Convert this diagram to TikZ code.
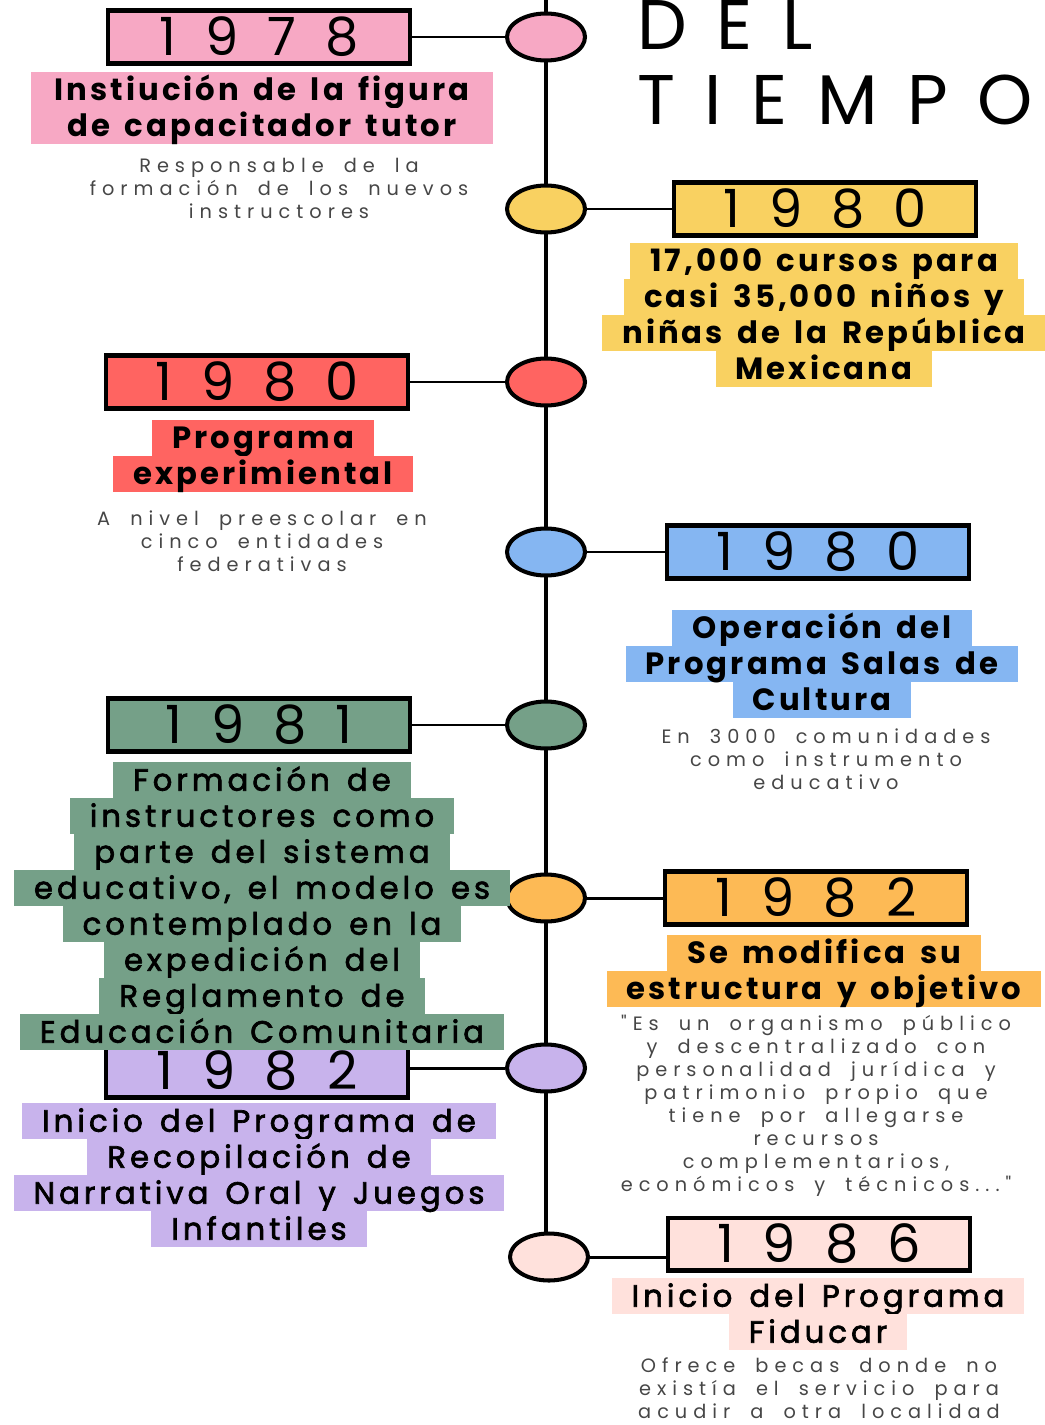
\documentclass[tikz,border=0pt]{standalone}
\usepackage{fontspec}
\setmainfont{Poppins}
\newfontfamily\anyofont[LetterSpace=55]{Poppins}
\newfontfamily\titfont[LetterSpace=42]{Poppins}
\newfontfamily\negfont[LetterSpace=10,WordSpace=1.5]{Poppins}
\newfontfamily\medfont[LetterSpace=13,WordSpace=1.4,FakeBold=2.2]{Poppins}
\newfontfamily\notafont[LetterSpace=31,WordSpace=1.8,Ligatures=TeXOff]{Poppins}
\usetikzlibrary{positioning,shapes.geometric}
\definecolor{rosa}{RGB}{247,168,196}
\definecolor{amarillo}{RGB}{249,209,97}
\definecolor{rojo}{RGB}{255,100,97}
\definecolor{azul}{RGB}{133,182,242}
\definecolor{verde}{RGB}{117,160,136}
\definecolor{naranja}{RGB}{253,186,85}
\definecolor{lila}{RGB}{200,179,236}
\definecolor{rosaclaro}{RGB}{255,225,220}
\definecolor{gris}{RGB}{70,70,70}
\tikzset{
  punto/.style={ellipse,draw,line width=2.3pt,minimum width=1.56cm,minimum height=0.94cm,inner sep=0pt},
  anio/.style={draw,line width=2.3pt,minimum width=6.05cm,minimum height=1.06cm,inner sep=0pt,
    font=\anyofont\fontsize{30}{30}\selectfont},
  franja/.style={fill=#1,inner xsep=0.4cm,inner ysep=0pt,outer sep=0pt,minimum height=0.72cm,
    text height=12.2pt,text depth=0pt,font=\negfont\bfseries\fontsize{17.5}{21}\selectfont},
  franjam/.style={franja=#1,font=\medfont\fontsize{17.5}{21}\selectfont},
  nota/.style={align=center,text=gris,inner sep=0pt,font=\notafont\fontsize{11}{13.1}\selectfont},
  titulo/.style={anchor=base west,inner sep=0pt,font=\titfont\fontsize{40}{40}\selectfont},
  eje/.style={line width=2.8pt},
  union/.style={line width=1.7pt},
}
\begin{document}
\begin{tikzpicture}[x=0.02cm,y=-0.02cm]
  \useasboundingbox (0,0) rectangle (1044,1425);
  \coordinate (arriba) at (546,0);
  \coordinate (abajo) at (546,1240);
  \draw[eje] (arriba) -- (abajo);
  \foreach \nombre/\y/\col in {p1/37/rosa,p2/209/amarillo,p3/382/rojo,p4/552/azul,
      p5/725/verde,p6/898/naranja,p7/1068/lila}
    \node[punto,fill=\col] (\nombre) at (546,\y) {};
  \node[punto,fill=rosaclaro] (p8) at (549,1257) {};

  \node[anio,fill=rosa] (a1) at (259,37) {1978};
  \node[anio,fill=amarillo] (a2) at (825,209) {1980};
  \node[anio,fill=rojo] (a3) at (257,382) {1980};
  \node[anio,fill=azul] (a4) at (818,552) {1980};
  \node[anio,fill=verde] (a5) at (259,725) {1981};
  \node[anio,fill=naranja] (a6) at (816,898) {1982};
  \node[anio,fill=lila] (a7) at (257,1071) {1982};
  \node[anio,fill=rosaclaro] (a8) at (819,1244) {1986};
  \foreach \i in {1,...,6} \draw[union] (p\i) -- (a\i);
  \draw[union] (p7) -- (p7 -| a7.east);
  \draw[union] (p8) -- (p8 -| a8.west);

  \node[franja=rosa,anchor=north,minimum width=9.24cm] (b1a) at (262,72) {Instiución de la figura};
  \node[franja=rosa,below=0pt of b1a,minimum width=9.24cm] (b1b) {de capacitador tutor};

  \node[franja=amarillo,anchor=north] (b2a) at (824,243) {17,000 cursos para};
  \node[franja=amarillo,below=0pt of b2a] (b2b) {casi 35,000 niños y};
  \node[franja=amarillo,below=0pt of b2b] (b2c) {niñas de la República};
  \node[franja=amarillo,below=0pt of b2c] (b2d) {Mexicana};

  \node[franja=rojo,anchor=north] (b3a) at (263,420) {Programa};
  \node[franja=rojo,below=0pt of b3a] (b3b) {experimiental};

  \node[franja=azul,anchor=north] (b4a) at (822,610) {Operación del};
  \node[franja=azul,below=0pt of b4a] (b4b) {Programa Salas de};
  \node[franja=azul,below=0pt of b4b] (b4c) {Cultura};

  \node[franjam=verde,anchor=north] (b5a) at (262,762) {Formación de};
  \node[franjam=verde,below=0pt of b5a] (b5b) {instructores como};
  \node[franjam=verde,below=0pt of b5b] (b5c) {parte del sistema};
  \node[franjam=verde,below=0pt of b5c] (b5d) {educativo, el modelo es};
  \node[franjam=verde,below=0pt of b5d] (b5e) {contemplado en la};
  \node[franjam=verde,below=0pt of b5e] (b5f) {expedición del};
  \node[franjam=verde,below=0pt of b5f] (b5g) {Reglamento de};
  \node[franjam=verde,below=0pt of b5g] (b5h) {Educación Comunitaria};

  \node[franja=naranja,anchor=north] (b6a) at (824,935) {Se modifica su};
  \node[franja=naranja,below=0pt of b6a] (b6b) {estructura y objetivo};

  \node[franjam=lila,anchor=north] (b7a) at (259,1103) {Inicio del Programa de};
  \node[franjam=lila,below=0pt of b7a] (b7b) {Recopilación de};
  \node[franjam=lila,below=0pt of b7b] (b7c) {Narrativa Oral y Juegos};
  \node[franjam=lila,below=0pt of b7c] (b7d) {Infantiles};

  \node[franjam=rosaclaro,anchor=north] (b8a) at (818,1278) {Inicio del Programa};
  \node[franjam=rosaclaro,below=0pt of b8a] (b8b) {Fiducar};

  \node[nota] (d1) at (279,188) {Responsable de la\\formación de los nuevos\\instructores};
  \node[nota] (d3) at (262,541) {A nivel preescolar en\\cinco entidades\\federativas};
  \node[nota] (d4) at (826,759) {En 3000 comunidades\\como instrumento\\educativo};
  \node[nota] (d6) at (816,1106) {"Es un organismo público\\y descentralizado con\\personalidad jurídica y\\
    patrimonio propio que\\tiene por allegarse\\recursos\\complementarios,\\económicos y técnicos..."};
  \node[nota] (d8) at (819,1388) {Ofrece becas donde no\\existía el servicio para\\acudir a otra localidad};

  \node[titulo] (t1) at (637,50) {DEL};
  \node[titulo] (t2) at (637,125) {TIEMPO};
\end{tikzpicture}
\end{document}
